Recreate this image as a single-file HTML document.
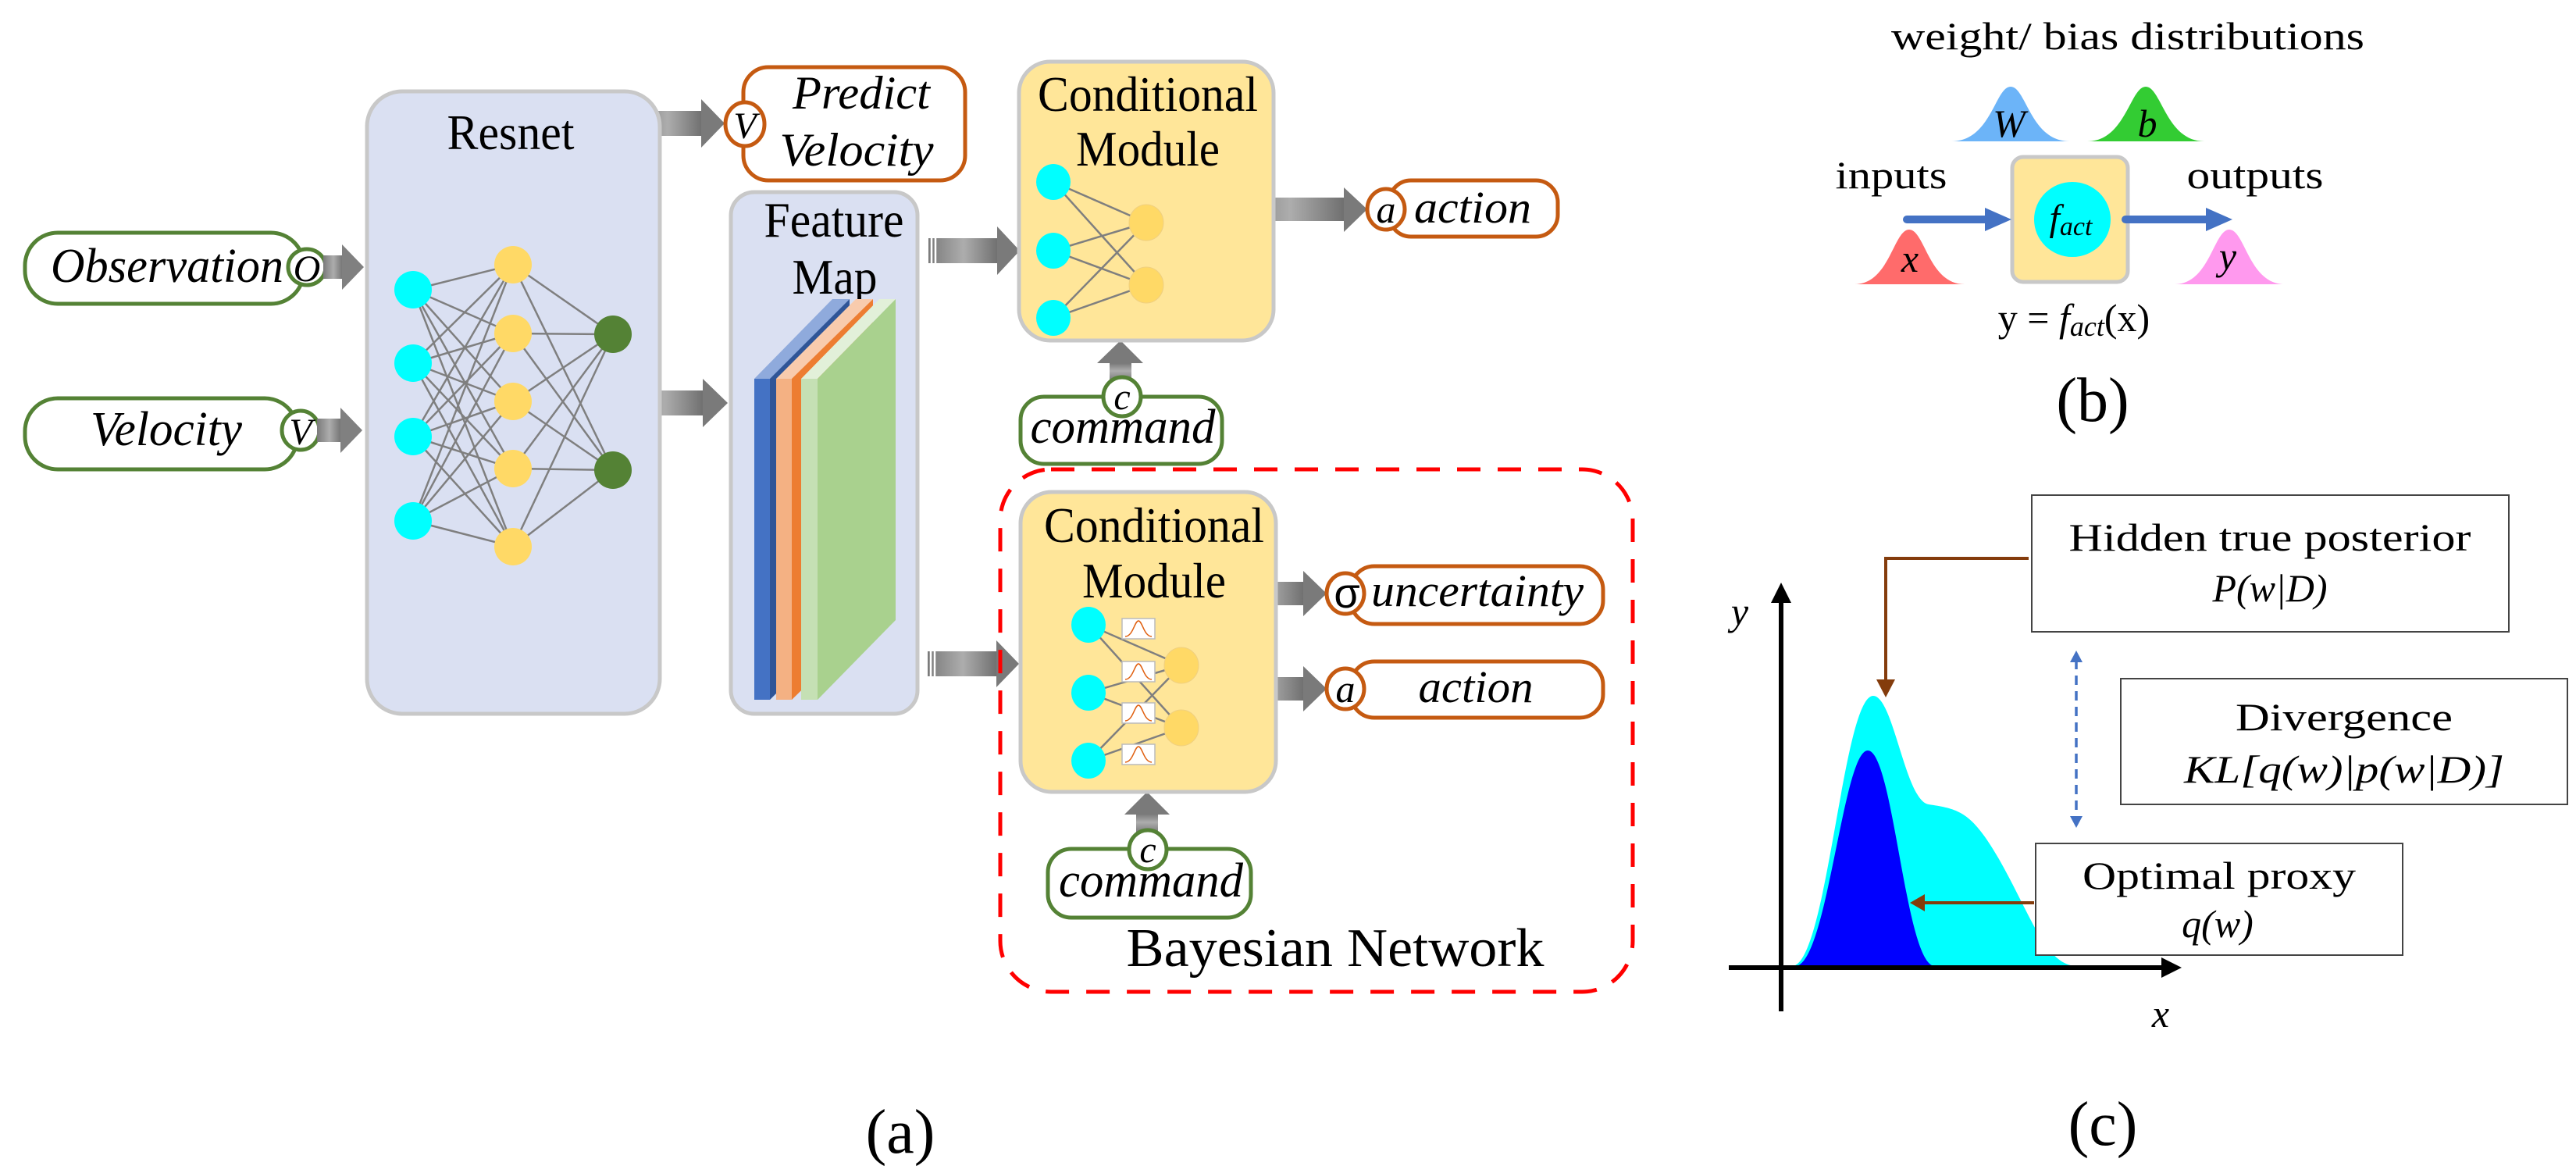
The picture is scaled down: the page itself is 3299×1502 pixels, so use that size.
<!DOCTYPE html>
<html><head><meta charset="utf-8"><style>
html,body{margin:0;padding:0;background:#fff;width:3299px;height:1502px;overflow:hidden}
svg{display:block}
text{font-family:"Liberation Serif","Times New Roman",serif;fill:#000}
.it{font-style:italic}
</style></head><body>
<svg width="3299" height="1502" viewBox="0 0 3299 1502" xmlns="http://www.w3.org/2000/svg" font-family="Liberation Serif, serif">
<defs>
<linearGradient id="gh" x1="0" x2="1" y1="0" y2="0"><stop offset="0" stop-color="#7a7a7a"/><stop offset="0.5" stop-color="#adadad"/><stop offset="1" stop-color="#6e6e6e"/></linearGradient>
<linearGradient id="gv" x1="0" x2="0" y1="1" y2="0"><stop offset="0" stop-color="#7a7a7a"/><stop offset="0.5" stop-color="#adadad"/><stop offset="1" stop-color="#6e6e6e"/></linearGradient>
<g id="bell"><rect x="0" y="0" width="42" height="26" fill="#fff" stroke="#bbb" stroke-width="1.5"/><path d="M4 23 C14 23 16 3 21 3 C26 3 28 23 38 23" fill="none" stroke="#e06010" stroke-width="1.5"/></g>
</defs>

<rect x="32" y="298" width="357" height="91" rx="42" fill="#fff" stroke="#548235" stroke-width="5"/>
<text x="214" y="361" font-size="62" class="it" text-anchor="middle" textLength="298" lengthAdjust="spacingAndGlyphs">Observation</text>
<ellipse cx="393" cy="342" rx="24" ry="23" fill="#fff" stroke="#548235" stroke-width="5"/>
<text x="393" y="360" font-size="48" class="it" text-anchor="middle">O</text>
<rect x="32" y="510" width="349" height="91" rx="42" fill="#fff" stroke="#548235" stroke-width="5"/>
<text x="213" y="570" font-size="62" class="it" text-anchor="middle" textLength="194" lengthAdjust="spacingAndGlyphs">Velocity</text>
<ellipse cx="385" cy="551" rx="24" ry="25" fill="#fff" stroke="#548235" stroke-width="5"/>
<text x="385" y="569" font-size="48" class="it" text-anchor="middle">V</text>

<g>
<rect x="414" y="327" width="26" height="30" fill="url(#gh)"/><polygon points="438,313 466,342 438,371" fill="#808080"/>
<rect x="406" y="536" width="32" height="30" fill="url(#gh)"/><polygon points="436,522 464,551 436,580" fill="#808080"/>
<rect x="810" y="142" width="90" height="32" fill="url(#gh)"/><polygon points="898,127 928,158 898,189" fill="#7a7a7a"/>
<rect x="800" y="500" width="102" height="32" fill="url(#gh)"/><polygon points="900,485 932,516 900,547" fill="#7a7a7a"/>
<rect x="1189" y="305" width="90" height="32" fill="url(#gh)"/><polygon points="1277,290 1306,321 1277,352" fill="#7a7a7a"/>
<rect x="1581" y="253" width="142" height="30" fill="url(#gh)"/><polygon points="1721,240 1751,268 1721,297" fill="#7a7a7a"/>
<rect x="1188" y="834" width="90" height="32" fill="url(#gh)"/><polygon points="1276,820 1305,850 1276,880" fill="#7a7a7a"/>
<rect x="1576" y="745" width="95" height="30" fill="url(#gh)"/><polygon points="1669,731 1699,760 1669,789" fill="#7a7a7a"/>
<rect x="1576" y="867" width="95" height="30" fill="url(#gh)"/><polygon points="1669,853 1699,882 1669,911" fill="#7a7a7a"/>
<rect x="1421" y="463" width="28" height="24" fill="url(#gv)"/><polygon points="1405,465 1435,436 1464,465" fill="#7a7a7a"/>
<rect x="1455" y="1040" width="28" height="26" fill="url(#gv)"/><polygon points="1440,1043 1469,1014 1498,1043" fill="#7a7a7a"/>
<g stroke="#fff" stroke-width="2.5">
<line x1="814" y1="142" x2="814" y2="174"/><line x1="819" y1="142" x2="819" y2="174"/>
<line x1="804" y1="500" x2="804" y2="532"/><line x1="809" y1="500" x2="809" y2="532"/>
<line x1="1193" y1="305" x2="1193" y2="337"/><line x1="1198" y1="305" x2="1198" y2="337"/>
<line x1="1585" y1="253" x2="1585" y2="283"/><line x1="1590" y1="253" x2="1590" y2="283"/>
<line x1="1192" y1="834" x2="1192" y2="866"/><line x1="1197" y1="834" x2="1197" y2="866"/>
<line x1="1580" y1="745" x2="1580" y2="775"/><line x1="1585" y1="745" x2="1585" y2="775"/>
<line x1="1580" y1="867" x2="1580" y2="897"/><line x1="1585" y1="867" x2="1585" y2="897"/>
</g>
</g>

<rect x="470" y="117" width="375" height="797" rx="45" fill="#dae0f2" stroke="#c8c8c8" stroke-width="5"/>
<text x="654" y="191" font-size="64" text-anchor="middle" textLength="163" lengthAdjust="spacingAndGlyphs">Resnet</text>
<g stroke="#7f7f7f" stroke-width="2.5">
<line x1="529" y1="371" x2="657" y2="339"/><line x1="529" y1="371" x2="657" y2="427"/><line x1="529" y1="371" x2="657" y2="514"/><line x1="529" y1="371" x2="657" y2="600"/><line x1="529" y1="371" x2="657" y2="700"/>
<line x1="529" y1="465" x2="657" y2="339"/><line x1="529" y1="465" x2="657" y2="427"/><line x1="529" y1="465" x2="657" y2="514"/><line x1="529" y1="465" x2="657" y2="600"/><line x1="529" y1="465" x2="657" y2="700"/>
<line x1="529" y1="559" x2="657" y2="339"/><line x1="529" y1="559" x2="657" y2="427"/><line x1="529" y1="559" x2="657" y2="514"/><line x1="529" y1="559" x2="657" y2="600"/><line x1="529" y1="559" x2="657" y2="700"/>
<line x1="529" y1="667" x2="657" y2="339"/><line x1="529" y1="667" x2="657" y2="427"/><line x1="529" y1="667" x2="657" y2="514"/><line x1="529" y1="667" x2="657" y2="600"/><line x1="529" y1="667" x2="657" y2="700"/>
<line x1="657" y1="339" x2="785" y2="428"/><line x1="657" y1="339" x2="785" y2="602"/>
<line x1="657" y1="427" x2="785" y2="428"/><line x1="657" y1="427" x2="785" y2="602"/>
<line x1="657" y1="514" x2="785" y2="428"/><line x1="657" y1="514" x2="785" y2="602"/>
<line x1="657" y1="600" x2="785" y2="428"/><line x1="657" y1="600" x2="785" y2="602"/>
<line x1="657" y1="700" x2="785" y2="428"/><line x1="657" y1="700" x2="785" y2="602"/>
</g>
<g fill="#00ffff"><ellipse cx="529" cy="371" rx="24" ry="24"/><ellipse cx="529" cy="465" rx="24" ry="24"/><ellipse cx="529" cy="559" rx="24" ry="24"/><ellipse cx="529" cy="667" rx="24" ry="24"/></g>
<g fill="#ffd966"><ellipse cx="657" cy="339" rx="24" ry="24"/><ellipse cx="657" cy="427" rx="24" ry="24"/><ellipse cx="657" cy="514" rx="24" ry="24"/><ellipse cx="657" cy="600" rx="24" ry="24"/><ellipse cx="657" cy="700" rx="24" ry="24"/></g>
<g fill="#548235"><ellipse cx="785" cy="428" rx="24" ry="24"/><ellipse cx="785" cy="602" rx="24" ry="24"/></g>

<rect x="952" y="86" width="284" height="145" rx="32" fill="#fff" stroke="#c55a11" stroke-width="5"/>
<text x="1103" y="139" font-size="60" class="it" text-anchor="middle" textLength="176" lengthAdjust="spacingAndGlyphs">Predict</text>
<text x="1097" y="212" font-size="60" class="it" text-anchor="middle" textLength="197" lengthAdjust="spacingAndGlyphs">Velocity</text>
<ellipse cx="954" cy="159" rx="25" ry="28" fill="#fff" stroke="#c55a11" stroke-width="5"/>
<text x="954" y="177" font-size="48" class="it" text-anchor="middle">V</text>

<rect x="936" y="246" width="239" height="668" rx="30" fill="#dae0f2" stroke="#c8c8c8" stroke-width="5"/>
<text x="1068" y="303" font-size="64" text-anchor="middle" textLength="179" lengthAdjust="spacingAndGlyphs">Feature</text>
<text x="1069" y="376" font-size="64" text-anchor="middle" textLength="109" lengthAdjust="spacingAndGlyphs">Map</text>
<polygon points="966,485 988,485 1088,383 1066,383" fill="#8faadc"/>
<polygon points="986,485 1088,383 1088,794 986,896" fill="#2f5597"/>
<rect x="966" y="485" width="20" height="411" fill="#4472c4"/>
<polygon points="994,485 1016,485 1118,383 1096,383" fill="#f8cbad"/>
<polygon points="1014,485 1118,383 1118,794 1014,896" fill="#ed7d31"/>
<rect x="994" y="485" width="20" height="411" fill="#f4b183"/>
<polygon points="1026,485 1047,485 1147,383 1126,383" fill="#e2f0d9"/>
<polygon points="1047,485 1147,383 1147,794 1047,896" fill="#a9d18e"/>
<rect x="1026" y="485" width="21" height="411" fill="#c5e0b4"/>

<rect x="1305" y="79" width="326" height="357" rx="40" fill="#ffe699" stroke="#c8c8c8" stroke-width="5"/>
<text x="1470" y="142" font-size="64" text-anchor="middle" textLength="282" lengthAdjust="spacingAndGlyphs">Conditional</text>
<text x="1470" y="212" font-size="64" text-anchor="middle" textLength="184" lengthAdjust="spacingAndGlyphs">Module</text>
<g stroke="#7f7f7f" stroke-width="2.5">
<line x1="1349" y1="233" x2="1468" y2="285"/><line x1="1349" y1="233" x2="1468" y2="365"/>
<line x1="1349" y1="321" x2="1468" y2="285"/><line x1="1349" y1="321" x2="1468" y2="365"/>
<line x1="1349" y1="407" x2="1468" y2="285"/><line x1="1349" y1="407" x2="1468" y2="365"/>
</g>
<g fill="#00ffff"><ellipse cx="1349" cy="233" rx="22" ry="23"/><ellipse cx="1349" cy="321" rx="22" ry="23"/><ellipse cx="1349" cy="407" rx="22" ry="23"/></g>
<g fill="#ffd966" stroke="#f0d080"><ellipse cx="1468" cy="285" rx="22" ry="23"/><ellipse cx="1468" cy="365" rx="22" ry="23"/></g>

<rect x="1779" y="231" width="216" height="72" rx="28" fill="#fff" stroke="#c55a11" stroke-width="5"/>
<text x="1886" y="285" font-size="58" class="it" text-anchor="middle" textLength="150" lengthAdjust="spacingAndGlyphs">action</text>
<ellipse cx="1775" cy="268" rx="24" ry="26" fill="#fff" stroke="#c55a11" stroke-width="5"/>
<text x="1775" y="285" font-size="50" class="it" text-anchor="middle">a</text>

<rect x="1307" y="508" width="258" height="86" rx="30" fill="#fff" stroke="#548235" stroke-width="5"/>
<text x="1438" y="567" font-size="62" class="it" text-anchor="middle" textLength="237" lengthAdjust="spacingAndGlyphs">command</text>
<ellipse cx="1437" cy="508" rx="24" ry="25" fill="#fff" stroke="#548235" stroke-width="5"/>
<text x="1437" y="524" font-size="48" class="it" text-anchor="middle">c</text>

<rect x="1281" y="601" width="810" height="669" rx="65" fill="none" stroke="#ff0000" stroke-width="5" stroke-dasharray="30,22"/>

<rect x="1307" y="630" width="327" height="384" rx="40" fill="#ffe699" stroke="#c8c8c8" stroke-width="5"/>
<text x="1478" y="694" font-size="64" text-anchor="middle" textLength="282" lengthAdjust="spacingAndGlyphs">Conditional</text>
<text x="1478" y="765" font-size="64" text-anchor="middle" textLength="184" lengthAdjust="spacingAndGlyphs">Module</text>
<g stroke="#7f7f7f" stroke-width="2.5">
<line x1="1394" y1="800" x2="1513" y2="852"/><line x1="1394" y1="800" x2="1513" y2="932"/>
<line x1="1394" y1="887" x2="1513" y2="852"/><line x1="1394" y1="887" x2="1513" y2="932"/>
<line x1="1394" y1="974" x2="1513" y2="852"/><line x1="1394" y1="974" x2="1513" y2="932"/>
</g>
<use href="#bell" x="1437" y="792"/><use href="#bell" x="1437" y="847"/><use href="#bell" x="1437" y="900"/><use href="#bell" x="1437" y="953"/>
<g fill="#00ffff"><ellipse cx="1394" cy="800" rx="22" ry="23"/><ellipse cx="1394" cy="887" rx="22" ry="23"/><ellipse cx="1394" cy="974" rx="22" ry="23"/></g>
<g fill="#ffd966" stroke="#f0d080"><ellipse cx="1513" cy="852" rx="22" ry="23"/><ellipse cx="1513" cy="932" rx="22" ry="23"/></g>

<rect x="1730" y="725" width="323" height="74" rx="30" fill="#fff" stroke="#c55a11" stroke-width="5"/>
<text x="1892" y="776" font-size="58" class="it" text-anchor="middle" textLength="272" lengthAdjust="spacingAndGlyphs">uncertainty</text>
<ellipse cx="1723" cy="760" rx="24" ry="26" fill="#fff" stroke="#c55a11" stroke-width="5"/>
<text x="1725" y="778" font-size="54" text-anchor="middle" style="font-family:'Liberation Sans',sans-serif">σ</text>
<rect x="1730" y="847" width="323" height="72" rx="30" fill="#fff" stroke="#c55a11" stroke-width="5"/>
<text x="1890" y="899" font-size="58" class="it" text-anchor="middle" textLength="147" lengthAdjust="spacingAndGlyphs">action</text>
<ellipse cx="1723" cy="882" rx="24" ry="26" fill="#fff" stroke="#c55a11" stroke-width="5"/>
<text x="1723" y="899" font-size="50" class="it" text-anchor="middle">a</text>

<rect x="1342" y="1087" width="260" height="88" rx="30" fill="#fff" stroke="#548235" stroke-width="5"/>
<text x="1474" y="1148" font-size="62" class="it" text-anchor="middle" textLength="236" lengthAdjust="spacingAndGlyphs">command</text>
<ellipse cx="1470" cy="1088" rx="24" ry="25" fill="#fff" stroke="#548235" stroke-width="5"/>
<text x="1470" y="1104" font-size="48" class="it" text-anchor="middle">c</text>

<text x="1710" y="1237" font-size="70" text-anchor="middle" textLength="535" lengthAdjust="spacingAndGlyphs">Bayesian Network</text>
<text x="1153" y="1476" font-size="80" text-anchor="middle">(a)</text>

<text x="2725" y="63" font-size="50" text-anchor="middle" textLength="606" lengthAdjust="spacingAndGlyphs">weight/ bias distributions</text>
<path d="M2499 181 C2550 181 2555 111 2575 111 C2595 111 2600 181 2651 181 Z" fill="#6cb4f8"/>
<text x="2573" y="175" font-size="50" class="it" text-anchor="middle">W</text>
<path d="M2673 181 C2722 181 2728 111 2748 111 C2768 111 2774 181 2823 181 Z" fill="#33cc33"/>
<text x="2750" y="175" font-size="50" class="it" text-anchor="middle">b</text>
<path d="M2375 364 C2420 364 2425 294 2445 294 C2465 294 2470 364 2516 364 Z" fill="#ff6b6b"/>
<text x="2446" y="348" font-size="50" class="it" text-anchor="middle">x</text>
<path d="M2785 364 C2830 364 2835 294 2855 294 C2875 294 2880 364 2926 364 Z" fill="#ff99ee"/>
<text x="2853" y="345" font-size="50" class="it" text-anchor="middle">y</text>
<text x="2422" y="241" font-size="50" text-anchor="middle" textLength="143" lengthAdjust="spacingAndGlyphs">inputs</text>
<text x="2888" y="241" font-size="50" text-anchor="middle" textLength="175" lengthAdjust="spacingAndGlyphs">outputs</text>
<rect x="2577" y="201" width="148" height="160" rx="14" fill="#ffe699" stroke="#c8c8c8" stroke-width="5"/>
<ellipse cx="2654" cy="281" rx="49" ry="48" fill="#00ffff"/>
<text x="2652" y="295" font-size="48" class="it" text-anchor="middle">f<tspan font-size="34" dy="6">act</tspan></text>
<line x1="2442" y1="281" x2="2545" y2="281" stroke="#4472c4" stroke-width="10" stroke-linecap="round"/>
<polygon points="2542,266 2576,281 2542,296" fill="#4472c4"/>
<line x1="2722" y1="281" x2="2828" y2="281" stroke="#4472c4" stroke-width="10" stroke-linecap="round"/>
<polygon points="2825,266 2859,281 2825,296" fill="#4472c4"/>
<text x="2656" y="424" font-size="50" text-anchor="middle">y = <tspan class="it">f</tspan><tspan class="it" font-size="36" dy="6">act</tspan><tspan dy="-6">(x)</tspan></text>
<text x="2680" y="539" font-size="80" text-anchor="middle">(b)</text>

<path d="M2295 1237 C2340 1237 2360 891 2399 891 C2425 891 2440 1026 2470 1030 C2510 1036 2525 1040 2560 1100 C2600 1170 2620 1237 2660 1237 Z" fill="#00ffff"/>
<path d="M2299 1237 C2340 1237 2360 961 2392 961 C2425 961 2440 1237 2478 1237 Z" fill="#0000ff"/>
<line x1="2281" y1="1295" x2="2281" y2="770" stroke="#000" stroke-width="6"/>
<polygon points="2268,772 2281,746 2294,772" fill="#000"/>
<line x1="2214" y1="1239" x2="2770" y2="1239" stroke="#000" stroke-width="6"/>
<polygon points="2768,1226 2794,1239 2768,1252" fill="#000"/>
<text x="2228" y="800" font-size="50" class="it" text-anchor="middle">y</text>
<text x="2767" y="1315" font-size="50" class="it" text-anchor="middle">x</text>
<rect x="2602" y="634" width="611" height="175" fill="#fff" stroke="#444" stroke-width="2"/>
<text x="2907" y="705" font-size="50" text-anchor="middle" textLength="515" lengthAdjust="spacingAndGlyphs">Hidden true posterior</text>
<text x="2907" y="770" font-size="50" class="it" text-anchor="middle">P(w|D)</text>
<rect x="2716" y="869" width="572" height="161" fill="#fff" stroke="#444" stroke-width="2"/>
<text x="3002" y="935" font-size="50" text-anchor="middle" textLength="278" lengthAdjust="spacingAndGlyphs">Divergence</text>
<text x="3002" y="1002" font-size="50" class="it" text-anchor="middle" textLength="410" lengthAdjust="spacingAndGlyphs">KL[q(w)|p(w|D)]</text>
<rect x="2607" y="1080" width="470" height="143" fill="#fff" stroke="#444" stroke-width="2"/>
<text x="2842" y="1138" font-size="50" text-anchor="middle" textLength="350" lengthAdjust="spacingAndGlyphs">Optimal proxy</text>
<text x="2840" y="1200" font-size="50" class="it" text-anchor="middle">q(w)</text>
<polyline points="2598,715 2415,715 2415,875" fill="none" stroke="#843c0c" stroke-width="4"/>
<polygon points="2403,870 2415,893 2427,870" fill="#843c0c"/>
<line x1="2605" y1="1156" x2="2460" y2="1156" stroke="#843c0c" stroke-width="4"/>
<polygon points="2465,1145 2446,1156 2465,1167" fill="#843c0c"/>
<line x1="2659" y1="845" x2="2659" y2="1048" stroke="#4472c4" stroke-width="3.5" stroke-dasharray="12,8"/>
<polygon points="2651,848 2659,833 2667,848" fill="#4472c4"/>
<polygon points="2651,1045 2659,1060 2667,1045" fill="#4472c4"/>
<text x="2693" y="1466" font-size="80" text-anchor="middle">(c)</text>
</svg>
</body></html>
